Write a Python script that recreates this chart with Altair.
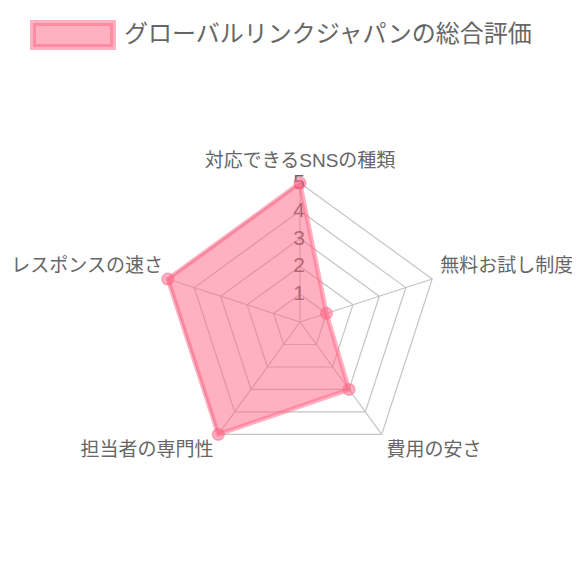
import altair as alt
import numpy as np
import pandas as pd

# ---- data ----
categories = ["対応できるSNSの種類", "無料お試し制度", "費用の安さ", "担当者の専門性", "レスポンスの速さ"]
scores = [5, 1, 3, 5, 5]
tick_values = [1, 2, 3, 4, 5]
series_name = "グローバルリンクジャパンの総合評価"
max_value = 5

# ---- styling ----
PINK_FILL = "rgba(255,99,132,0.5)"
GRID = "#c4c4c4"
TEXT = "#666666"
FONT = "Liberation Sans, Noto Sans CJK JP"
LABEL_R = 5.3
LABEL_NUDGE = {("right", "bottom"): (3, 0), ("center", "bottom"): (0, -4)}

n = len(categories)
angles = np.pi / 2 - np.arange(n) * 2 * np.pi / n

poly = pd.DataFrame({"category": categories, "score": scores, "idx": range(n), "series": series_name})
poly["x"] = poly["score"] * np.cos(angles)
poly["y"] = poly["score"] * np.sin(angles)

grid = pd.DataFrame([
    {"level": t, "idx": i, "x": t * np.cos(a), "y": t * np.sin(a)}
    for t in tick_values for i, a in enumerate(angles)
])

spokes = pd.DataFrame({
    "idx": range(n), "x": 0.0, "y": 0.0,
    "x2": max_value * np.cos(angles), "y2": max_value * np.sin(angles),
})

ticks = pd.DataFrame({"label": [str(t) for t in tick_values], "x": 0.0, "y": [float(t) for t in tick_values]})

lab = pd.DataFrame({"category": categories})
lab["x"] = LABEL_R * np.cos(angles)
lab["y"] = LABEL_R * np.sin(angles)
lab["align"] = np.where(np.abs(np.cos(angles)) < 0.01, "center", np.where(np.cos(angles) > 0, "left", "right"))
lab["baseline"] = np.where(np.sin(angles) > 0, "bottom", "top")

xs = alt.Scale(domain=[-10.504, 9.784], nice=False, zero=False)
ys = alt.Scale(domain=[-8.993, 11.295], nice=False, zero=False)
X = lambda f="x": alt.X(f"{f}:Q", scale=xs, axis=None)
Y = lambda f="y": alt.Y(f"{f}:Q", scale=ys, axis=None)

grid_layer = alt.Chart(grid).mark_line(interpolate="linear-closed", stroke=GRID, strokeWidth=1.2).encode(
    x=X(), y=Y(), detail="level:N", order="idx:Q"
)
spoke_layer = alt.Chart(spokes).mark_rule(stroke=GRID, strokeWidth=1.2).encode(
    x=X(), y=Y(), x2="x2:Q", y2="y2:Q"
)
tick_layer = alt.Chart(ticks).mark_text(fontSize=21, font=FONT, color=TEXT, dx=-1).encode(
    x=X(), y=Y(), text="label:N"
)
poly_layer = alt.Chart(poly).mark_line(
    interpolate="linear-closed", fill=PINK_FILL, stroke=PINK_FILL, strokeWidth=4.5
).encode(x=X(), y=Y(), order="idx:Q")

point_layer = alt.Chart(poly).mark_point(
    filled=True, size=135, opacity=1, stroke=PINK_FILL, strokeWidth=1.5
).encode(
    x=X(), y=Y(),
    color=alt.Color("series:N", scale=alt.Scale(range=[PINK_FILL]), legend=alt.Legend(
        title=None, orient="none", legendX=22, legendY=-16,
        symbolType="M-1,-0.3H1V0.3H-1Z", symbolSize=6400,
        symbolStrokeColor=PINK_FILL, symbolStrokeWidth=6,
        labelFontSize=24, labelColor=TEXT, labelFont=FONT, labelOffset=8, labelLimit=0,
    )),
)

label_layers = []
for (al, bl), sub in lab.groupby(["align", "baseline"]):
    ndx, ndy = LABEL_NUDGE.get((al, bl), (0, 0))
    label_layers.append(
        alt.Chart(sub).mark_text(
            fontSize=19, font=FONT, color=TEXT, align=al, baseline=bl, dx=ndx, dy=ndy
        ).encode(x=X(), y=Y(), text="category:N")
    )

chart = alt.layer(grid_layer, spoke_layer, tick_layer, poly_layer, point_layer, *label_layers).properties(
    width=564, height=564, padding=0, autosize="none"
).configure_view(stroke=None)

chart.save("out.html", embed_options={"renderer": "svg", "actions": False})
